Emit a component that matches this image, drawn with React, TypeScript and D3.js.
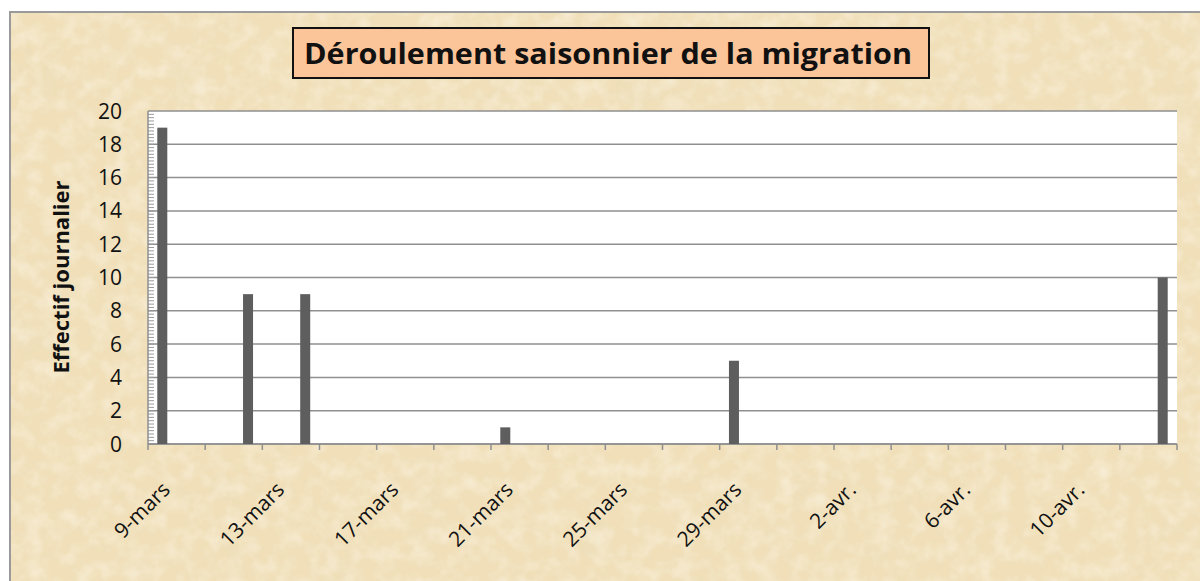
import { useMemo } from 'react'
import * as d3 from 'd3'

const W = 1200
const H = 581
const M = { top: 111, right: 23, bottom: 137, left: 148 }

// daily counts
const obsDates = ['2009-03-09', '2009-03-12', '2009-03-14', '2009-03-21', '2009-03-29', '2009-04-13']
const obsCounts = [19, 9, 9, 1, 5, 10]

const axisStart = '2009-03-09'
const axisEnd = '2009-04-14'
const yTicks = [0, 2, 4, 6, 8, 10, 12, 14, 16, 18, 20]
const moisFr = ['janv.', 'févr.', 'mars', 'avr.', 'mai', 'juin', 'juil.', 'août', 'sept.', 'oct.', 'nov.', 'déc.']

const TITLE = 'Déroulement saisonnier de la migration'
const Y_TITLE = 'Effectif journalier'

const FONT = '"Open Sans", "Noto Sans", sans-serif'

const parse = d3.utcParse('%Y-%m-%d')
const fmtDate = (d: Date) => `${d.getUTCDate()}-${moisFr[d.getUTCMonth()]}`

export default function App() {
  const iW = W - M.left - M.right
  const iH = H - M.top - M.bottom

  const x = useMemo(
    () => d3.scaleUtc().domain([parse(axisStart)!, parse(axisEnd)!]).range([0, iW]),
    [iW]
  )
  const y = useMemo(() => d3.scaleLinear().domain([0, 20]).range([iH, 0]), [iH])

  const dayW = x(d3.utcDay.offset(parse(axisStart)!, 1)) - x(parse(axisStart)!)
  const barW = 10

  const bars = obsDates.map((d, i) => ({ date: parse(d)!, v: obsCounts[i] }))
  const majorTicks = d3.utcDay.range(parse(axisStart)!, d3.utcDay.offset(parse(axisEnd)!, 1), 2)
  const labelDays = d3.utcDay.range(parse(axisStart)!, parse(axisEnd)!, 4)
  const minor = d3.range(0, 100).map((i) => i * 0.2)

  return (
    <svg
      width={W}
      height={H}
      viewBox={`0 0 ${W} ${H}`}
      style={{ position: 'absolute', left: 0, top: 0, display: 'block' }}
    >
      <defs>
        <filter id="parch" x="0" y="0" width="100%" height="100%">
          <feTurbulence type="fractalNoise" baseFrequency="0.02" numOctaves="4" seed="3" result="n" />
          <feColorMatrix
            in="n"
            type="matrix"
            values="0 0 0 0 0.86  0 0 0 0 0.74  0 0 0 0 0.5  1.1 0 0 0 -0.42"
          />
        </filter>
        <filter id="parch2" x="0" y="0" width="100%" height="100%">
          <feTurbulence type="fractalNoise" baseFrequency="0.06" numOctaves="3" seed="11" result="n" />
          <feColorMatrix
            in="n"
            type="matrix"
            values="0 0 0 0 0.99  0 0 0 0 0.95  0 0 0 0 0.85  0.9 0 0 0 -0.35"
          />
        </filter>
      </defs>

      {/* background */}
      <rect width={W} height={H} fill="#fff" />
      <g transform="translate(10,12)">
        <rect width={W - 10} height={H - 12} fill="#f0dfb8" />
        <rect width={W - 10} height={H - 12} filter="url(#parch)" />
        <rect width={W - 10} height={H - 12} filter="url(#parch2)" />
        <path d={`M0,${H}V0H${W}`} fill="none" stroke="#9a9a9a" strokeWidth={2} />
      </g>

      {/* title */}
      <rect x={293} y={28} width={636} height={50} fill="#fcc599" stroke="#111" strokeWidth={2} />
      <text
        x={608}
        y={64}
        textAnchor="middle"
        fontFamily={FONT}
        fontWeight="bold"
        fontSize={29}
        textLength={608}
        lengthAdjust="spacingAndGlyphs"
        fill="#111"
      >
        {TITLE}
      </text>

      <g transform={`translate(${M.left},${M.top})`}>
        <rect width={iW} height={iH} fill="#fff" />

        {/* gridlines */}
        {yTicks.map((t) => (
          <line key={t} x1={0} x2={iW} y1={y(t)} y2={y(t)} stroke="#8f8f8f" strokeWidth={1.5} />
        ))}

        {/* minor ticks, inside */}
        {minor.map((m) => (
          <line key={m} x1={0} x2={6} y1={y(m)} y2={y(m)} stroke="#9a9a9a" strokeWidth={1} />
        ))}

        {/* axes */}
        <line x1={0} x2={0} y1={0} y2={iH} stroke="#8f8f8f" strokeWidth={1.5} />
        <line x1={0} x2={iW} y1={iH} y2={iH} stroke="#8f8f8f" strokeWidth={1.5} />
        {majorTicks.map((d) => (
          <line key={+d} x1={x(d)} x2={x(d)} y1={iH} y2={iH + 6} stroke="#8f8f8f" strokeWidth={1.5} />
        ))}

        {/* bars */}
        {bars.map((b) => (
          <rect
            key={+b.date}
            x={x(b.date) + dayW / 2 - barW / 2}
            y={y(b.v)}
            width={barW}
            height={iH - y(b.v)}
            fill="#5e5e5e"
          />
        ))}

        {/* y tick labels */}
        {yTicks.map((t) => (
          <text
            key={t}
            x={-26}
            y={y(t)}
            dy="0.36em"
            textAnchor="end"
            fontFamily={FONT}
            fontSize={21}
            fill="#111"
          >
            {t}
          </text>
        ))}

        {/* x tick labels */}
        {labelDays.map((d) => {
          const cx = x(d) + dayW / 2 + 9
          const cy = iH + 47
          return (
            <text
              key={+d}
              transform={`translate(${cx},${cy}) rotate(-45)`}
              textAnchor="end"
              fontFamily={FONT}
              fontSize={21}
              fill="#111"
            >
              {fmtDate(d)}
            </text>
          )
        })}
      </g>

      {/* y axis title */}
      <text
        transform={`translate(${69},${277}) rotate(-90)`}
        textAnchor="middle"
        fontFamily={FONT}
        fontWeight="bold"
        fontSize={22}
        fill="#111"
      >
        {Y_TITLE}
      </text>
    </svg>
  )
}
